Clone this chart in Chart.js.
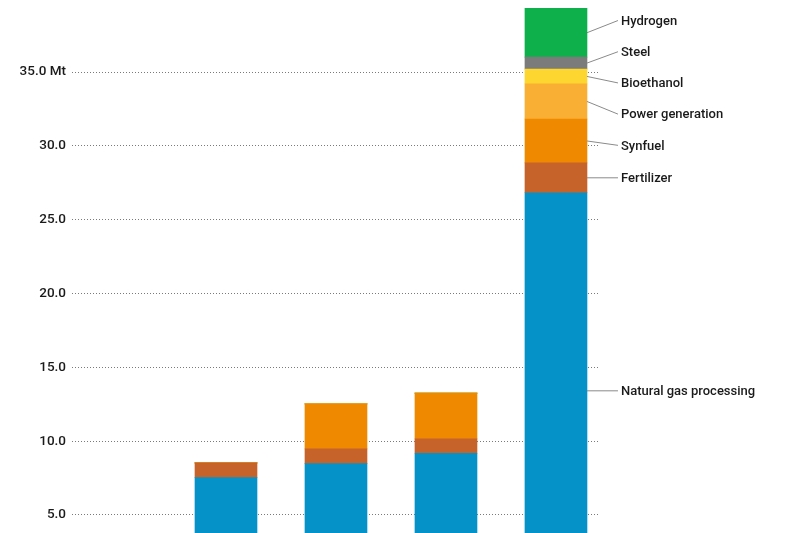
<!DOCTYPE html>
<html>
<head>
<meta charset="utf-8">
<script src="https://cdn.jsdelivr.net/npm/chart.js@4/dist/chart.umd.min.js"></script>
<style>
  body { margin: 0; background: #fff; }
  #wrap { width: 800px; height: 533px; }
</style>
</head>
<body>
<div id="wrap"><canvas id="myChart"></canvas></div>
<script>
const categories = ['2010', '2015', '2020', '2030'];
const yTicks = [5, 10, 15, 20, 25, 30, 35];

const naturalGas = [7.53, 8.48, 9.18, 26.82];
const fertilizer = [1.0, 1.0, 0.97, 2.03];
const synfuel = [0, 3.05, 3.1, 2.96];
const powerGeneration = [0, 0, 0, 2.39];
const bioethanol = [0, 0, 0, 1.0];
const steel = [0, 0, 0, 0.81];
const hydrogen = [0, 0, 0, 3.3];

const series = [
  { label: 'Natural gas processing', data: naturalGas, color: '#0592c9' },
  { label: 'Fertilizer', data: fertilizer, color: '#c6632a' },
  { label: 'Synfuel', data: synfuel, color: '#ef8a00' },
  { label: 'Power generation', data: powerGeneration, color: '#f9ae34' },
  { label: 'Bioethanol', data: bioethanol, color: '#fed630' },
  { label: 'Steel', data: steel, color: '#7b7b7b' },
  { label: 'Hydrogen', data: hydrogen, color: '#0db04b' },
];

// labels at the right of the last bar, spread so they don't overlap
const sideLabels = {
  id: 'sideLabels',
  afterDatasetsDraw(chart) {
    const ctx = chart.ctx;
    const last = categories.length - 1;
    const gap = 31.2;
    let items = chart.data.datasets.map((ds, i) => {
      const el = chart.getDatasetMeta(i).data[last];
      return { text: ds.label, target: (el.y + el.base) / 2, x: el.x + el.width / 2 };
    }).sort((a, b) => a.target - b.target);

    // cluster overlapping labels around their mean
    let clusters = items.map(it => ({ items: [it], mean: it.target }));
    let merged = true;
    while (merged) {
      merged = false;
      for (let i = 0; i < clusters.length - 1; i++) {
        const a = clusters[i], b = clusters[i + 1];
        const aEnd = a.mean + (a.items.length - 1) * gap / 2;
        const bStart = b.mean - (b.items.length - 1) * gap / 2;
        if (bStart - aEnd < gap) {
          const all = a.items.concat(b.items);
          const mean = all.reduce((s, it) => s + it.target, 0) / all.length;
          clusters.splice(i, 2, { items: all, mean });
          merged = true;
          break;
        }
      }
    }
    clusters.forEach(c => {
      c.items.forEach((it, k) => {
        it.y = c.mean + (k - (c.items.length - 1) / 2) * gap;
      });
    });

    ctx.save();
    ctx.strokeStyle = '#8a8a8a';
    ctx.lineWidth = 1;
    ctx.fillStyle = '#1a1a1a';
    ctx.font = '500 13px Roboto';
    ctx.textBaseline = 'middle';
    items.forEach(it => {
      ctx.beginPath();
      ctx.moveTo(it.x, it.target);
      ctx.lineTo(it.x + 31, it.y);
      ctx.stroke();
      ctx.fillText(it.text, it.x + 34, it.y + 1);
    });
    ctx.restore();
  }
};

new Chart(document.getElementById('myChart'), {
  type: 'bar',
  data: {
    datasets: series.map(s => ({
      label: s.label,
      data: s.data.map((v, i) => ({ x: i + 1, y: v })),
      backgroundColor: s.color,
      borderWidth: 0,
      barThickness: 62,
    })),
  },
  options: {
    responsive: true,
    maintainAspectRatio: false,
    animation: false,
    layout: { padding: { left: 0, right: 202, top: 0, bottom: 0 } },
    plugins: { legend: { display: false }, tooltip: { enabled: false } },
    scales: {
      x: {
        type: 'linear',
        display: false,
        stacked: true,
        offset: false,
        min: -0.4,
        max: 4.382,
      },
      y: {
        stacked: true,
        min: 3.781,
        max: 39.876,
        afterBuildTicks: (scale) => { scale.ticks = yTicks.map(v => ({ value: v })); },
        afterFit: (scale) => {
          scale.width = 72;
          scale.paddingTop = 0;
          scale.paddingBottom = 0;
        },
        grid: { color: '#7a7a7a', lineWidth: 1, drawTicks: false },
        border: { display: false, dash: [1, 2] },
        ticks: {
          padding: 6,
          color: '#1a1a1a',
          font: { family: 'Roboto', size: 13.5, weight: '500' },
          callback: (v) => v === 35 ? v.toFixed(1) + ' Mt' : v.toFixed(1),
        },
      },
    },
  },
  plugins: [sideLabels],
});
</script>
</body>
</html>
